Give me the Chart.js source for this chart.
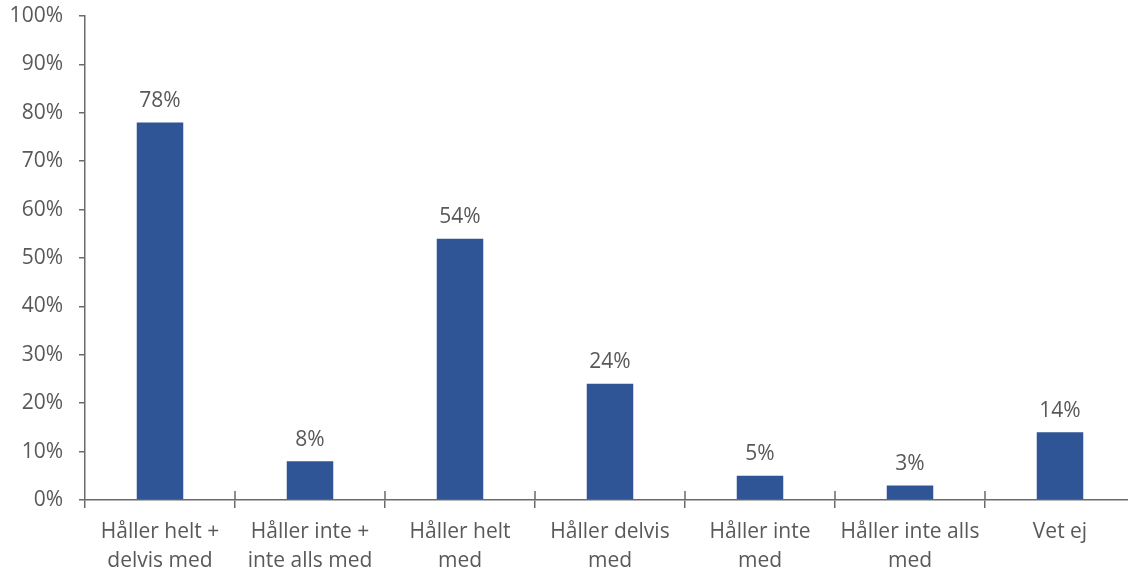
<!DOCTYPE html>
<html lang="sv">
<head>
  <meta charset="UTF-8">
  <title>Håller med</title>
  <script src="https://cdn.jsdelivr.net/npm/chart.js"></script>
  <style>
    html, body { margin: 0; padding: 0; background: #fff; overflow: hidden; }
    #wrap { width: 1136px; height: 571px; }
  </style>
</head>
<body>
  <div id="wrap"><canvas id="chart" width="1136" height="571"></canvas></div>
  <script>
    const categories = [
      ['Håller helt +', 'delvis med'],
      ['Håller inte +', 'inte alls med'],
      ['Håller helt', 'med'],
      ['Håller delvis', 'med'],
      ['Håller inte', 'med'],
      ['Håller inte alls', 'med'],
      'Vet ej'
    ];
    const values = [78, 8, 54, 24, 5, 3, 14];
    const yTicks = [0, 10, 20, 30, 40, 50, 60, 70, 80, 90, 100];

    const textColor = '#595959';
    const axisColor = '#6b6b6b';
    const font = { family: '"Open Sans", sans-serif', size: 21, lineHeight: 1.38 };

    const valueLabels = {
      id: 'valueLabels',
      afterDatasetsDraw(chart) {
        const c = chart.ctx;
        const meta = chart.getDatasetMeta(0);
        c.save();
        c.fillStyle = textColor;
        c.font = '21px "Open Sans", sans-serif';
        c.textAlign = 'center';
        c.textBaseline = 'bottom';
        meta.data.forEach((bar, i) => {
          c.fillText(values[i] + '%', bar.x, bar.y - 11);
        });
        c.restore();
      }
    };

    // upper half of the category tick marks, which cross the x axis
    const crossTicks = {
      id: 'crossTicks',
      afterDraw(chart) {
        const x = chart.scales.x;
        const c = chart.ctx;
        c.save();
        c.strokeStyle = axisColor;
        c.lineWidth = 1.5;
        c.beginPath();
        for (let i = 0; i < values.length - 1; i++) {
          const px = (x.getPixelForValue(i) + x.getPixelForValue(i + 1)) / 2;
          c.moveTo(px, x.top - 9);
          c.lineTo(px, x.top);
        }
        c.stroke();
        c.restore();
      }
    };

    new Chart(document.getElementById('chart'), {
      type: 'bar',
      data: {
        labels: categories,
        datasets: [{
          data: values,
          backgroundColor: '#2F5597',
          categoryPercentage: 1,
          barPercentage: 0.31
        }]
      },
      options: {
        responsive: false,
        animation: false,
        layout: { padding: { top: 0, right: 1, left: 0, bottom: 0 } },
        plugins: { legend: { display: false }, tooltip: { enabled: false } },
        scales: {
          x: {
            afterFit(scale) { scale.height = 71; },
            grid: {
              display: true,
              offset: true,
              drawOnChartArea: false,
              tickLength: 8,
              color: axisColor,
              lineWidth: 1.5
            },
            border: { color: axisColor, width: 1.5 },
            ticks: { color: textColor, font: font, maxRotation: 0, autoSkip: false, padding: 10 }
          },
          y: {
            min: 0,
            max: 100,
            afterBuildTicks(scale) {
              scale.ticks = yTicks.map(v => ({ value: v }));
            },
            afterFit(scale) {
              scale.width = 85;
              scale.paddingTop = 16;
            },
            grid: {
              display: true,
              drawOnChartArea: false,
              tickLength: 6,
              color: axisColor,
              lineWidth: 1.5
            },
            border: { color: axisColor, width: 1.5 },
            ticks: {
              color: textColor,
              font: { family: '"Open Sans", sans-serif', size: 21 },
              padding: 16,
              callback: v => v + '%'
            }
          }
        }
      },
      plugins: [valueLabels, crossTicks]
    });
  </script>
</body>
</html>
